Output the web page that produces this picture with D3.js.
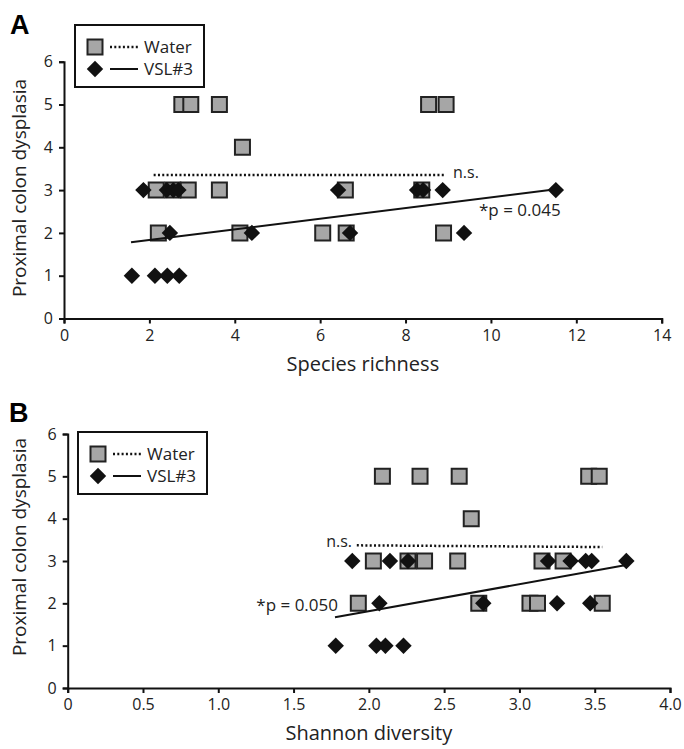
<!DOCTYPE html>
<html>
<meta charset="utf-8">
<head>
<script src="https://cdnjs.cloudflare.com/ajax/libs/d3/7.8.5/d3.min.js"></script>
</head>
<style>
body { margin: 0; background: #fff; }
svg { font-family: "Open Sans", sans-serif; }
.axis path, .axis line { stroke: #111; stroke-width: 2px; }
.axis text { font-size: 16px; fill: #222; font-family: "Open Sans", sans-serif; }
.square { fill: #a6a6a6; stroke: #222; stroke-width: 2px; }
.diamond { fill: #111; }
.label { fill: #222; }
</style>
<body>
<svg id="canvas" width="684" height="749"></svg>
<script>
// y: proximal colon dysplasia score, same for both panels
const dysplasiaTicks = [0, 1, 2, 3, 4, 5, 6];
const richnessTicks = [0, 2, 4, 6, 8, 10, 12, 14];
const shannonTicks = [0, 0.5, 1, 1.5, 2, 2.5, 3, 3.5, 4];
const shannonTickLabels = ["0", "0.5", "1.0", "1.5", "2.0", "2.5", "3.0", "3.5", "4.0"];
const seriesNames = ["Water", "VSL#3"];

// panel A - species richness
const waterRichness = [2.76, 2.97, 3.64, 8.54, 8.95, 4.18, 2.16, 2.55, 2.91, 3.64, 6.59, 8.38, 2.21, 4.12, 6.06, 6.61, 8.89];
const waterScoreA   = [5, 5, 5, 5, 5, 4, 3, 3, 3, 3, 3, 3, 2, 2, 2, 2, 2];
const vslRichness   = [1.86, 2.41, 2.56, 2.68, 6.42, 8.27, 8.41, 8.87, 11.52, 2.48, 4.40, 6.70, 9.37, 1.59, 2.13, 2.42, 2.70];
const vslScoreA     = [3, 3, 3, 3, 3, 3, 3, 3, 3, 2, 2, 2, 2, 1, 1, 1, 1];
const waterFitA = [[2.1, 3.35], [8.94, 3.35]];
const vslFitA   = [[1.57, 1.78], [11.52, 3.02]];

// panel B - Shannon diversity
const waterShannon = [2.09, 2.34, 2.60, 3.46, 3.53, 2.68, 2.03, 2.26, 2.37, 2.59, 3.15, 3.29, 1.93, 2.73, 3.07, 3.12, 3.55];
const waterScoreB  = [5, 5, 5, 5, 5, 4, 3, 3, 3, 3, 3, 3, 2, 2, 2, 2, 2];
const vslShannon   = [1.89, 2.14, 2.26, 3.19, 3.34, 3.44, 3.48, 3.71, 2.07, 2.76, 3.25, 3.47, 1.78, 2.05, 2.11, 2.23];
const vslScoreB    = [3, 3, 3, 3, 3, 3, 3, 3, 2, 2, 2, 2, 1, 1, 1, 1];
const waterFitB = [[1.92, 3.37], [3.55, 3.33]];
const vslFitB   = [[1.775, 1.67], [3.70, 2.90]];

const svg = d3.select('#canvas');

const panels = [
  {letter: "A", letterPos: [10, 34],
   xr: [64, 661.7], yr: [318.5, 61.7], xDomain: [0, 14], xTicks: richnessTicks, xFmt: d => d,
   xTitle: "Species richness", xTitleY: 371, yTitleY: 188,
   water: d3.zip(waterRichness, waterScoreA), vsl: d3.zip(vslRichness, vslScoreA),
   waterFit: waterFitA, vslFit: vslFitA,
   legend: [75, 25],
   ns: {x: 453, y: 178, anchor: "start"}, p: {text: "*p = 0.045", x: 479, y: 216, anchor: "start"}},
  {letter: "B", letterPos: [9, 422],
   xr: [67.7, 670], yr: [688, 434], xDomain: [0, 4], xTicks: shannonTicks, xFmt: (d, i) => shannonTickLabels[i],
   xTitle: "Shannon diversity", xTitleY: 740, yTitleY: 547,
   water: d3.zip(waterShannon, waterScoreB), vsl: d3.zip(vslShannon, vslScoreB),
   waterFit: waterFitB, vslFit: vslFitB,
   legend: [78, 432],
   ns: {x: 352, y: 547, anchor: "end"}, p: {text: "*p = 0.050", x: 338, y: 611, anchor: "end"}}
];

const squareSym = d3.symbol(d3.symbolSquare, 225);
const diamondSym = d3.symbol(d3.symbolSquare, 135);

panels.forEach(p => {
  const x = d3.scaleLinear().domain(p.xDomain).range(p.xr);
  const y = d3.scaleLinear().domain([0, 6]).range(p.yr);
  const g = svg.append('g');

  g.append('g').classed('axis', true)
   .attr('transform', `translate(0,${p.yr[0]})`)
   .call(d3.axisBottom(x).tickValues(p.xTicks).tickFormat(p.xFmt).tickSizeOuter(0).tickSize(5).tickPadding(6));
  g.append('g').classed('axis', true)
   .attr('transform', `translate(${p.xr[0]},0)`)
   .call(d3.axisLeft(y).tickValues(dysplasiaTicks).tickFormat(d3.format('d')).tickSizeOuter(0).tickSize(5).tickPadding(6));

  // markers: water squares below, VSL#3 diamonds on top
  g.selectAll('.square').data(p.water).join('path').classed('square', true)
   .attr('d', squareSym)
   .attr('transform', d => `translate(${x(d[0])},${y(d[1])})`);
  g.selectAll('.diamond').data(p.vsl).join('path').classed('diamond', true)
   .attr('d', diamondSym)
   .attr('transform', d => `translate(${x(d[0])},${y(d[1])}) rotate(45)`);

  const line = d3.line().x(d => x(d[0])).y(d => y(d[1]));
  g.append('path').attr('d', line(p.waterFit))
   .attr('fill', 'none').attr('stroke', '#111').attr('stroke-width', 2.5).attr('stroke-dasharray', '2,2.3');
  g.append('path').attr('d', line(p.vslFit))
   .attr('fill', 'none').attr('stroke', '#111').attr('stroke-width', 2);

  g.append('text').classed('label', true).text("n.s.")
   .attr('x', p.ns.x).attr('y', p.ns.y).attr('text-anchor', p.ns.anchor).style('font-size', '16px');
  g.append('text').classed('label', true).text(p.p.text)
   .attr('x', p.p.x).attr('y', p.p.y).attr('text-anchor', p.p.anchor).style('font-size', '17px');

  // axis titles
  g.append('text').classed('label', true).text(p.xTitle)
   .attr('x', (p.xr[0] + p.xr[1]) / 2).attr('y', p.xTitleY)
   .attr('text-anchor', 'middle').style('font-size', '20px');
  g.append('text').classed('label', true).text("Proximal colon dysplasia")
   .attr('transform', `translate(26,${p.yTitleY}) rotate(-90)`)
   .attr('text-anchor', 'middle').style('font-size', '19px');

  // panel letter
  g.append('text').text(p.letter)
   .attr('x', p.letterPos[0]).attr('y', p.letterPos[1])
   .style('font-family', '"Liberation Sans", Arial, sans-serif')
   .style('font-weight', 'bold').style('font-size', '27px');

  // legend
  const lg = g.append('g').attr('transform', `translate(${p.legend[0]},${p.legend[1]})`);
  lg.append('rect').attr('width', 129).attr('height', 62)
   .attr('fill', '#fff').attr('stroke', '#111').attr('stroke-width', 2);
  lg.append('path').classed('square', true).attr('d', squareSym).attr('transform', 'translate(20,22)');
  lg.append('path').classed('diamond', true).attr('d', diamondSym).attr('transform', 'translate(20,44) rotate(45)');
  lg.append('line').attr('x1', 35).attr('x2', 63).attr('y1', 22).attr('y2', 22)
   .attr('stroke', '#111').attr('stroke-width', 2.5).attr('stroke-dasharray', '2,2.3');
  lg.append('line').attr('x1', 35).attr('x2', 63).attr('y1', 44).attr('y2', 44)
   .attr('stroke', '#111').attr('stroke-width', 2);
  lg.selectAll('.legtext').data(seriesNames).join('text').classed('label', true)
   .text(d => d).attr('x', 69).attr('y', (d, i) => 28 + i * 22).style('font-size', '17px');
});
</script>
</body>
</html>
